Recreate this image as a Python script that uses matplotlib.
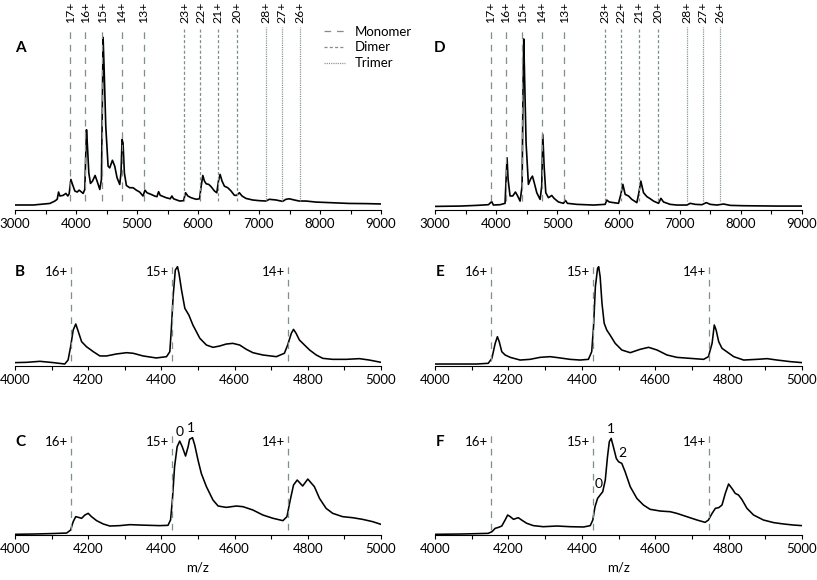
import numpy as np
import matplotlib
matplotlib.use('Agg')
import matplotlib.pyplot as plt
from matplotlib.lines import Line2D
from matplotlib.ticker import MultipleLocator

plt.rcParams['font.family'] = ['Lato', 'DejaVu Sans']
plt.rcParams['lines.scale_dashes'] = False

# ---- theoretical charge state positions (m/z) ----
monomer_mz = [3909, 4153, 4430, 4746, 5111]
monomer_lab = ['17+', '16+', '15+', '14+', '13+']
dimer_mz = [5778, 6040, 6328, 6644]
dimer_lab = ['23+', '22+', '21+', '20+']
trimer_mz = [7118, 7382, 7666]
trimer_lab = ['28+', '27+', '26+']
zoom_mz = [4153, 4430, 4746]
zoom_lab = ['16+', '15+', '14+']

# ---- spectra (m/z, relative intensity) ----
a_mz = [3000, 3300, 3572, 3654, 3692, 3714, 3736, 3790, 3834, 3866, 3888, 3916, 3943, 3981,
        4019, 4052, 4090, 4117, 4144, 4161, 4172, 4188, 4210, 4237, 4270, 4313, 4346, 4390,
        4417, 4433, 4444, 4460, 4488, 4526, 4553, 4597, 4635, 4673, 4717, 4738, 4755, 4771,
        4793, 4826, 4880, 4935, 4989, 5044, 5098, 5131, 5163, 5234, 5289, 5327, 5354, 5381,
        5480, 5545, 5572, 5599, 5698, 5763, 5796, 5834, 5888, 5970, 6025, 6052, 6079, 6106,
        6134, 6177, 6215, 6270, 6308, 6335, 6362, 6395, 6433, 6488, 6542, 6597, 6635, 6678,
        6722, 6787, 6896, 7006, 7115, 7169, 7278, 7387, 7441, 7496, 7578, 7659, 7768, 7932,
        8204, 8477, 8749, 8995]
a_int = [2.9, 2.9, 3.8, 5.2, 6.2, 10.4, 8.1, 8.5, 9.6, 8.1, 9.4, 17.7, 14.8, 11.0,
         10.4, 11.5, 10.4, 9.6, 11.9, 33.1, 46.5, 36.9, 21.5, 15.4, 16.7, 20.0, 16.7, 11.9,
         17.7, 63.8, 100, 83.1, 48.5, 25.4, 24.4, 28.8, 25.4, 18.7, 14.8, 21.5, 40.8, 38.8,
         21.5, 14.2, 12.9, 12.9, 11.5, 10.4, 8.1, 11.5, 10.0, 9.0, 8.1, 7.7, 10.6, 8.5,
         7.1, 6.5, 8.1, 6.5, 5.2, 5.4, 10.0, 8.1, 7.1, 6.2, 6.5, 13.8, 20.0, 16.7,
         15.2, 14.8, 13.5, 11.0, 10.0, 16.7, 20.6, 16.7, 13.8, 12.9, 11.0, 8.5, 8.5, 10.0,
         8.1, 6.7, 5.8, 5.4, 5.2, 6.2, 5.8, 5.0, 6.2, 6.5, 5.8, 5.2, 5.2, 4.6,
         4.2, 3.8, 3.7, 3.5]

d_mz = [3000, 3409, 3682, 3873, 3927, 3955, 4064, 4145, 4162, 4178, 4195, 4227, 4271, 4315,
        4347, 4391, 4424, 4440, 4451, 4467, 4489, 4527, 4565, 4593, 4620, 4664, 4718, 4745,
        4762, 4784, 4811, 4855, 4909, 4947, 5018, 5100, 5133, 5165, 5318, 5591, 5782, 5809,
        5847, 5918, 6000, 6038, 6071, 6109, 6164, 6218, 6300, 6333, 6365, 6409, 6464, 6518,
        6573, 6655, 6693, 6736, 6845, 6955, 7118, 7173, 7255, 7364, 7435, 7500, 7609, 7718,
        7827, 8045, 8591, 9000]
d_int = [2.1, 2.3, 2.7, 3.1, 4.9, 2.9, 3.1, 3.9, 17.9, 30.5, 17.9, 8.2, 8.2, 10.5,
         8.5, 5.2, 14.0, 74.2, 100, 74.2, 39.2, 15.0, 18.3, 19.8, 16.3, 10.1, 6.2, 14.0,
         44.1, 25.6, 10.1, 7.2, 8.5, 6.8, 4.7, 3.9, 5.6, 3.9, 3.3, 2.9, 3.3, 5.8,
         4.7, 4.3, 3.9, 9.1, 15.0, 9.1, 8.2, 6.2, 4.3, 10.1, 16.9, 10.1, 7.8, 6.6,
         5.2, 3.9, 6.8, 4.7, 3.3, 2.9, 2.9, 3.9, 3.3, 3.1, 4.3, 3.3, 2.9, 3.5,
         2.7, 2.5, 2.3, 2.3]

b_mz = [4000, 4032, 4068, 4105, 4136, 4145, 4152, 4159, 4166, 4173, 4182, 4195, 4214, 4232,
        4250, 4277, 4305, 4323, 4350, 4386, 4414, 4423, 4427, 4432, 4438, 4444, 4448, 4455,
        4464, 4475, 4486, 4505, 4523, 4541, 4559, 4577, 4595, 4614, 4632, 4650, 4677, 4714,
        4736, 4745, 4755, 4761, 4768, 4777, 4791, 4805, 4823, 4841, 4868, 4905, 4941, 4968, 5000]
b_int = [3.4, 3.7, 4.7, 3.4, 2.0, 6.0, 19.5, 36.2, 42.3, 34.6, 24.5, 19.5, 14.4, 10.1,
         10.1, 12.1, 13.4, 12.8, 10.1, 8.1, 9.4, 14.4, 36.2, 69.8, 96.6, 100, 93.3, 76.5,
         58.1, 51.3, 41.3, 27.9, 21.1, 18.8, 20.1, 22.1, 22.8, 21.1, 16.8, 13.4, 11.1, 9.4,
         12.8, 21.1, 32.9, 36.9, 32.9, 26.2, 21.1, 16.1, 11.1, 7.7, 6.7, 6.7, 7.4, 6.0, 3.7]

e_mz = [4000, 4068, 4114, 4145, 4155, 4164, 4170, 4175, 4182, 4191, 4205, 4232, 4259, 4286,
        4314, 4341, 4368, 4395, 4418, 4427, 4432, 4437, 4443, 4446, 4450, 4455, 4461, 4468,
        4477, 4491, 4509, 4532, 4559, 4582, 4605, 4632, 4659, 4695, 4732, 4745, 4755, 4761,
        4766, 4773, 4782, 4795, 4814, 4841, 4877, 4905, 4932, 4968, 5000]
e_int = [2.0, 2.0, 2.0, 2.7, 7.7, 22.8, 29.5, 24.5, 14.4, 11.1, 8.7, 6.0, 6.7, 8.7,
         9.4, 8.1, 6.7, 6.0, 6.7, 14.4, 39.6, 79.9, 98.3, 100, 89.9, 63.1, 43.0, 36.2,
         31.2, 22.8, 16.1, 13.4, 16.8, 18.8, 16.1, 11.1, 8.7, 7.7, 6.7, 9.4, 22.8, 41.3,
         36.2, 24.5, 17.8, 14.4, 9.4, 6.0, 6.7, 7.4, 6.0, 4.4, 3.4]

c_mz = [4000, 4050, 4095, 4141, 4152, 4159, 4166, 4173, 4182, 4191, 4200, 4209, 4223, 4241,
        4259, 4286, 4314, 4341, 4368, 4395, 4418, 4425, 4430, 4436, 4443, 4450, 4457, 4466,
        4473, 4477, 4485, 4491, 4500, 4509, 4523, 4541, 4555, 4577, 4605, 4623, 4650, 4677,
        4705, 4732, 4743, 4752, 4761, 4771, 4786, 4800, 4818, 4832, 4850, 4868, 4895, 4923,
        4950, 4977, 5000]
c_int = [0.7, 1.0, 1.4, 2.0, 5.1, 13.7, 18.8, 18.1, 17.1, 20.5, 22.2, 18.8, 14.7, 11.3,
         9.2, 9.6, 10.6, 10.2, 9.9, 9.6, 9.9, 15.4, 35.8, 70.0, 90.4, 96.2, 90.4, 80.9,
         90.4, 98.0, 99.7, 92.2, 76.8, 63.1, 49.5, 35.8, 29.7, 28.3, 29.7, 29.0, 25.6, 20.5,
         17.1, 14.7, 18.8, 35.8, 51.2, 56.3, 50.2, 57.3, 49.5, 37.5, 27.3, 22.2, 18.8, 17.7,
         16.0, 13.7, 10.9]

f_mz = [4000, 4068, 4114, 4145, 4155, 4164, 4173, 4182, 4191, 4198, 4205, 4214, 4221, 4227,
        4236, 4250, 4268, 4295, 4332, 4368, 4405, 4423, 4430, 4436, 4443, 4450, 4457, 4464,
        4470, 4475, 4480, 4486, 4494, 4500, 4509, 4518, 4532, 4550, 4568, 4586, 4614, 4641,
        4659, 4686, 4714, 4736, 4745, 4755, 4764, 4773, 4782, 4791, 4800, 4809, 4818, 4827,
        4836, 4850, 4868, 4895, 4923, 4950, 4977, 5000]
f_int = [0.7, 1.0, 1.4, 1.7, 3.4, 6.9, 7.9, 9.3, 15.5, 20.7, 19.0, 16.2, 17.2, 17.9,
         15.5, 12.1, 9.7, 8.6, 9.3, 8.6, 8.3, 9.7, 15.5, 29.3, 37.9, 41.4, 44.8, 56.9,
         81.0, 96.6, 100, 91.4, 79.3, 75.9, 74.1, 65.5, 50.0, 37.9, 31.0, 26.6, 24.8, 24.1,
         22.4, 19.0, 15.5, 13.1, 15.5, 22.4, 27.6, 28.3, 31.0, 43.1, 52.8, 48.3, 43.1, 41.4,
         36.9, 27.6, 20.7, 15.5, 12.8, 11.4, 10.3, 9.7]

# isotope / adduct peak labels
c_pk_lab = ['0', '1']
c_pk_mz = [4451, 4480]
c_pk_y = [105.8, 109.3]
f_pk_lab = ['0', '1', '2']
f_pk_mz = [4445, 4480, 4510]
f_pk_y = [52.5, 109.6, 85.2]

W, H = 817, 580
GREY = '#7f8f8b'
MONO = (0, (4.8, 4.2))
DIM = (0, (2.2, 1.6))
TRI = (0, (0.8, 0.8))
FS = 9.5


def px_axes(fig, left, right, top, bottom):
    return fig.add_axes([left / W, 1 - bottom / H, (right - left) / W, (bottom - top) / H])


def style(ax, lo, hi, major, minor, ytop):
    ax.set_xlim(lo, hi)
    ax.set_ylim(0, ytop)
    for s in ['left', 'right', 'top']:
        ax.spines[s].set_visible(False)
    ax.spines['bottom'].set_linewidth(0.8)
    ax.yaxis.set_visible(False)
    ax.xaxis.set_major_locator(MultipleLocator(major))
    ax.xaxis.set_minor_locator(MultipleLocator(minor))
    ax.tick_params(axis='x', which='both', direction='out', length=3.2, width=0.8,
                   labelsize=FS, pad=2.5)


def overview(ax, mz, inten, ytop):
    ax.plot(mz, inten, color='black', lw=1.2)
    for x in monomer_mz:
        ax.axvline(x, ymin=0.05, ymax=1, color=GREY, lw=0.9, ls=MONO)
    for x in dimer_mz:
        ax.axvline(x, ymin=0.05, ymax=1, color=GREY, lw=0.9, ls=DIM)
    for x in trimer_mz:
        ax.axvline(x, ymin=0.05, ymax=1, color=GREY, lw=0.9, ls=TRI)
    for x, lab in zip(monomer_mz + dimer_mz + trimer_mz, monomer_lab + dimer_lab + trimer_lab):
        ax.annotate(lab, (x, 1), xycoords=ax.get_xaxis_transform(), xytext=(0, 3),
                    textcoords='offset points', rotation=90, ha='center', va='bottom',
                    fontsize=8.8)
    style(ax, 3000, 9000, 1000, 500, ytop)


def closeup(ax, mz, inten, ytop):
    ax.plot(mz, inten, color='black', lw=1.15)
    for x, lab in zip(zoom_mz, zoom_lab):
        ax.axvline(x, ymin=0.05, ymax=1, color=GREY, lw=0.9, ls=MONO)
        ax.annotate(lab, (x, 0.91), xycoords=ax.get_xaxis_transform(), xytext=(-2, 0),
                    textcoords='offset points', ha='right', va='center', fontsize=FS)
    style(ax, 4000, 5000, 200, 100, ytop)


fig = plt.figure(figsize=(W / 100, H / 100), dpi=100)

axA = px_axes(fig, 15, 381, 27, 210)
overview(axA, a_mz, a_int, 106)
axD = px_axes(fig, 435, 802, 27, 210)
overview(axD, d_mz, d_int, 107)

axB = px_axes(fig, 15, 381, 262.7, 366)
closeup(axB, b_mz, b_int, 104)
axE = px_axes(fig, 435, 802, 262.7, 366)
closeup(axE, e_mz, e_int, 104)

axC = px_axes(fig, 15, 381, 432.7, 535)
closeup(axC, c_mz, c_int, 104.8)
axF = px_axes(fig, 435, 802, 432.7, 535)
closeup(axF, f_mz, f_int, 105.9)

for ax, labs, xs, ys in [(axC, c_pk_lab, c_pk_mz, c_pk_y), (axF, f_pk_lab, f_pk_mz, f_pk_y)]:
    for lab, x, y in zip(labs, xs, ys):
        ax.text(x, y, lab, ha='center', va='center', fontsize=10, clip_on=False)
    ax.set_xlabel('m/z', fontsize=FS, labelpad=5)

# panel letters
for lab, x, y in [('A', 20, 48), ('B', 20, 272), ('C', 20, 442),
                  ('D', 440, 48), ('E', 440, 272.5), ('F', 440, 442.5)]:
    fig.text(x / W, 1 - y / H, lab, fontsize=11, fontweight='bold', ha='center', va='center')

handles = [Line2D([], [], color=GREY, lw=0.9, ls=MONO),
           Line2D([], [], color=GREY, lw=0.9, ls=DIM),
           Line2D([], [], color=GREY, lw=0.9, ls=TRI)]
fig.legend(handles, ['Monomer', 'Dimer', 'Trimer'], loc='upper left',
           bbox_to_anchor=(324 / W, 1 - 25.5 / H), frameon=False, fontsize=FS,
           handlelength=1.6, handletextpad=0.75, labelspacing=0.3, borderpad=0,
           borderaxespad=0)

fig.savefig('out.png', dpi=100)
